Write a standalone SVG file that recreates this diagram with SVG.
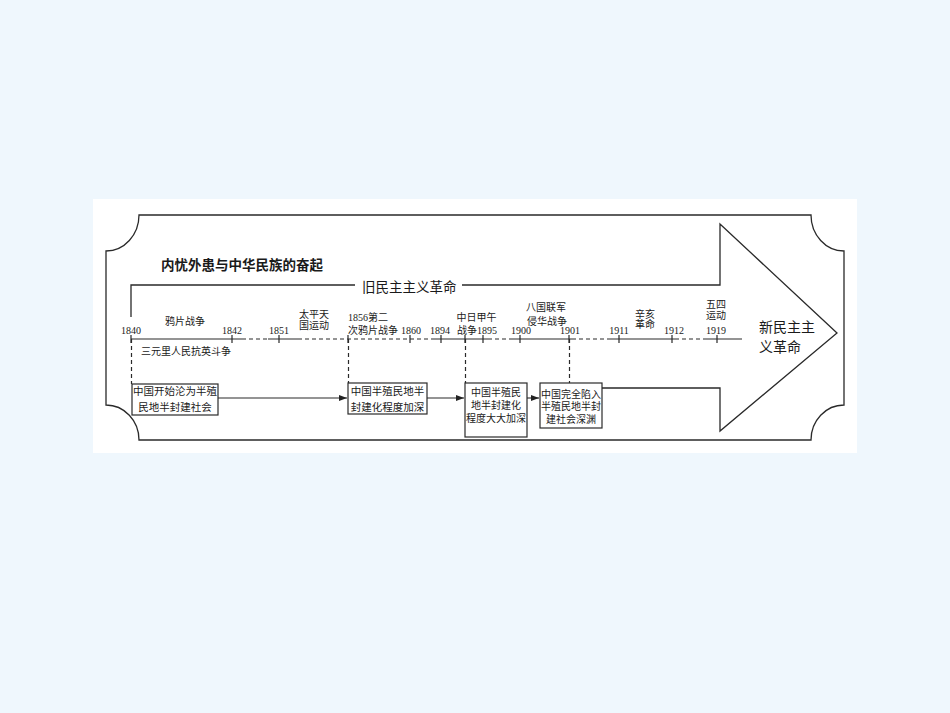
<svg xmlns="http://www.w3.org/2000/svg" width="950" height="713" viewBox="0 0 950 713">
<defs>
<marker id="ah" viewBox="0 0 8 6" refX="8" refY="3" markerWidth="8" markerHeight="6" markerUnits="userSpaceOnUse" orient="auto">
<path d="M0,0 L8,3 L0,6 z" fill="#222"/>
</marker>
<style>
.ln{fill:none;stroke:#2a2a2a;stroke-width:1.3}
.dash{fill:none;stroke:#2a2a2a;stroke-width:1.2;stroke-dasharray:4 3}
.tk{stroke:#2a2a2a;stroke-width:1.2}
.box{fill:#fff;stroke:#2a2a2a;stroke-width:1.2}
text{font-family:"Liberation Serif","Noto Sans CJK SC",serif;fill:#1a1a1a}
.s{font-size:10px}
.b{font-size:10.5px;text-anchor:middle}
.c{font-size:10px;text-anchor:middle}
.m{text-anchor:middle}
.big{font-size:13.5px}
</style>
</defs>
<rect width="950" height="713" fill="#eff7fd"/>
<rect x="93" y="199" width="764" height="254" fill="#fff"/>
<g id="frame">
<path class="ln" d="M139,215 H811 A33,36 0 0 0 844,251 V405 A33,35 0 0 0 811,440 H139 A33,35 0 0 0 106,405 V251 A33,36 0 0 0 139,215 Z"/>
</g>
<g id="big-arrow">
<path class="ln" d="M131,317 V285 H355 M462,285 H720 V224 L837,333 L720,431 V388 H602"/>
<text class="big" x="362" y="292">旧民主主义革命</text>
<text class="big" x="759" y="332" style="font-size:14px">新民主主</text>
<text class="big" x="759" y="352" style="font-size:14px">义革命</text>
</g>
<g id="title">
<text class="big" x="161" y="270" font-weight="bold">内忧外患与中华民族的奋起</text>
</g>
<g id="timeline">
<path class="ln" d="M131,339 H242 M268,339 H298 M433,339 H488 M513,339 H572 M607,339 H675 M705,339 H742" style="stroke-width:1.2"/>
<path class="dash" d="M242,339 H268 M298,339 H433 M488,339 H513 M572,339 H607 M675,339 H705"/>
<path class="tk" d="M131,335 V343 M232,335 V343 M279,335 V343 M348,335 V343 M410,335 V343 M441,335 V343 M465,335 V343 M483,335 V343 M520,335 V343 M569,335 V343 M619,335 V343 M672,335 V343 M717,335 V343"/>
<text class="c" x="131" y="334">1840</text>
<text class="c" x="185" y="325">鸦片战争</text>
<text class="c" x="232" y="334">1842</text>
<text class="c" x="279" y="334">1851</text>
<text class="c" x="314" y="317.5">太平天</text>
<text class="c" x="314" y="328.5">国运动</text>
<text class="s" x="348" y="321">1856第二</text>
<text class="s" x="348" y="334">次鸦片战争</text>
<text class="c" x="411" y="334">1860</text>
<text class="c" x="440" y="334">1894</text>
<text class="c" x="476.5" y="321">中日甲午</text>
<text class="s" x="457" y="334">战争1895</text>
<text class="c" x="546" y="311">八国联军</text>
<text class="c" x="547" y="325">侵华战争</text>
<text class="c" x="521" y="334">1900</text>
<text class="c" x="570" y="334">1901</text>
<text class="c" x="645" y="317.5">辛亥</text>
<text class="c" x="645" y="328">革命</text>
<text class="c" x="619" y="334">1911</text>
<text class="c" x="674" y="334">1912</text>
<text class="c" x="716" y="307.5">五四</text>
<text class="c" x="716" y="319">运动</text>
<text class="c" x="716" y="334">1919</text>
<text class="s" x="141" y="355">三元里人民抗英斗争</text>
</g>
<g id="connectors">
<path class="dash" d="M131.5,339 V384 M348.5,339 V383 M465.5,339 V383 M569.5,339 V383"/>
<path class="ln" d="M218,398 H347" marker-end="url(#ah)" style="stroke-width:1.1"/>
<path class="ln" d="M427,398 H464" marker-end="url(#ah)" style="stroke-width:1.1"/>
<path class="ln" d="M527,398 H539" marker-end="url(#ah)" style="stroke-width:1.1"/>
</g>
<g id="box1">
<rect class="box" x="132" y="384" width="86" height="31"/>
<text class="b" x="175" y="395">中国开始沦为半殖</text>
<text class="b" x="175" y="411">民地半封建社会</text>
</g>
<g id="box2">
<rect class="box" x="348" y="383" width="79" height="31"/>
<text class="b" x="387.5" y="395">中国半殖民地半</text>
<text class="b" x="387.5" y="411">封建化程度加深</text>
</g>
<g id="box3">
<rect class="box" x="465" y="383" width="62" height="54"/>
<text class="c" x="496" y="396">中国半殖民</text>
<text class="c" x="496" y="409">地半封建化</text>
<text class="c" x="496" y="422">程度大大加深</text>
</g>
<g id="box4">
<rect class="box" x="540" y="383" width="62" height="45"/>
<text class="c" x="571" y="397.5">中国完全陷入</text>
<text class="c" x="571" y="410">半殖民地半封</text>
<text class="c" x="571" y="422.5">建社会深渊</text>
</g>
</svg>
